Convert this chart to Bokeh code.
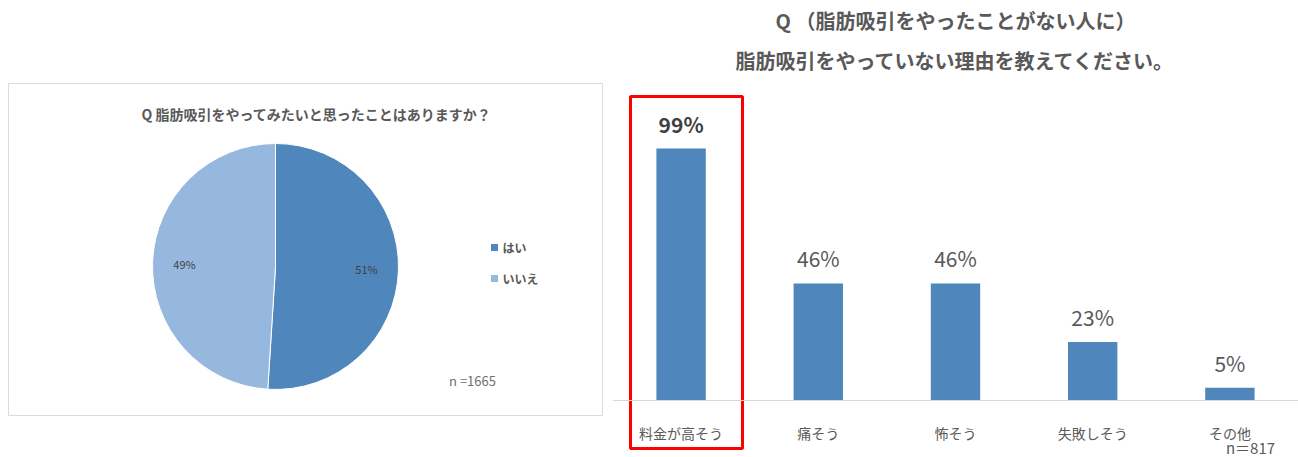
from bokeh.plotting import figure
from bokeh.layouts import row
from bokeh.models import FactorRange, Range1d, CategoricalAxis
from bokeh.core.properties import value
from bokeh.embed import file_html
from bokeh.resources import INLINE
import numpy as np

# ---------------- data ----------------
pie_title = "Q 脂肪吸引をやってみたいと思ったことはありますか？"
pie_labels = ["はい", "いいえ"]
pie_values = [51, 49]
pie_colors = ["#4f87bc", "#97b8de"]
pie_n = "n =1665"

bar_title1 = "Q （脂肪吸引をやったことがない人に）"
bar_title2 = "脂肪吸引をやっていない理由を教えてください。"
bar_categories = ["料金が高そう", "痛そう", "怖そう", "失敗しそう", "その他"]
bar_values = [99, 46, 46, 23, 5]
bar_n = "n＝817"

FONT = value("Noto Sans CJK JP")
GREY = "#595959"
DARK = "#404040"

# ---------------- left: pie ----------------
W1, H = 612, 457
p1 = figure(width=W1, height=H, x_range=Range1d(0, W1), y_range=Range1d(0, H),
            x_axis_location=None, y_axis_location=None, output_backend="svg",
            toolbar_location=None, min_border=0)
p1.grid.visible = False
p1.outline_line_color = None

# panel border
p1.quad(left=[8], right=[602], bottom=[H - 415], top=[H - 83],
        fill_color=None, line_color="#dcdcdc", line_width=1)

cx, cy, R = 275, H - 266, 123
cum = np.cumsum(pie_values)
ends = 90 - cum * 3.6
starts = np.concatenate([[90], ends[:-1]])
p1.wedge(x=cx, y=cy, radius=R, start_angle=np.radians(starts), end_angle=np.radians(ends),
         direction="clock", fill_color=pie_colors, line_color="white", line_width=1)

mids = np.radians((starts + ends) / 2)
p1.text(x=cx + 0.74 * R * np.cos(mids), y=cy + 0.74 * R * np.sin(mids),
        text=[f"{v}%" for v in pie_values], text_font=FONT, text_font_size="11px",
        text_color=DARK, text_align="center", text_baseline="middle")

p1.text(x=[316], y=[H - 113], text=[pie_title], text_font=FONT, text_font_size="14px",
        text_font_style="bold", text_color=GREY, text_align="center", text_baseline="middle")

leg_y = [H - 247, H - 278]
p1.rect(x=[494, 494], y=leg_y, width=7, height=7, fill_color=pie_colors, line_color=None)
p1.text(x=[502, 502], y=leg_y, text=pie_labels, text_font=FONT, text_font_size="12px",
        text_font_style="bold", text_color=GREY, text_align="left", text_baseline="middle")

p1.text(x=[472], y=[H - 380], text=[pie_n], text_font=FONT, text_font_size="13px",
        text_color="#6f6f6f", text_align="center", text_baseline="middle")

# ---------------- right: bars ----------------
W2 = 686
k = 2.545  # px per percent
base_px = 400
p2 = figure(width=W2, height=H, x_range=FactorRange(*bar_categories, range_padding=0),
            y_range=Range1d(-(H - base_px) / k, base_px / k),
            x_axis_location=None, y_axis_location=None, output_backend="svg",
            toolbar_location=None, min_border=0)
p2.grid.visible = False
p2.outline_line_color = None

p2.vbar(x=bar_categories, top=bar_values, width=0.36, fill_color="#4f87bc", line_color=None)

ax = CategoricalAxis(fixed_location=0)
ax.axis_line_color = "#d9d9d9"
ax.major_tick_line_color = None
ax.minor_tick_line_color = None
ax.major_label_text_font = "Noto Sans CJK JP"
ax.major_label_text_font_size = "14px"
ax.major_label_text_color = GREY
ax.major_label_standoff = 16
p2.add_layout(ax, "below")

styles = ["bold"] + ["normal"] * (len(bar_values) - 1)
colors = [DARK] + [GREY] * (len(bar_values) - 1)
p2.text(x=bar_categories, y=bar_values, text=[f"{v}%" for v in bar_values],
        text_font=FONT, text_font_size="21px", text_font_style=styles, text_color=colors,
        text_align="center", text_baseline="middle", y_offset=-25)

# titles
p2.text(x=[2.5, 2.5], y=[(base_px - 20) / k, (base_px - 60) / k], text=[bar_title1, bar_title2],
        text_font=FONT, text_font_size="20px", text_font_style="bold", text_color=GREY,
        text_align="center", text_baseline="middle")

# n label
p2.text(x=[638 / 137.2], y=[(base_px - 447) / k], text=[bar_n], text_font=FONT,
        text_font_size="15px", text_color=GREY, text_align="center", text_baseline="middle")

# red highlight box around first category
p2.quad(left=[18 / 137.2], right=[130 / 137.2], top=[(base_px - 96) / k],
        bottom=[(base_px - 448) / k], fill_color=None, line_color="#ff0000", line_width=3)

layout = row(p1, p2)
open("out.html", "w").write(file_html(layout, INLINE))
